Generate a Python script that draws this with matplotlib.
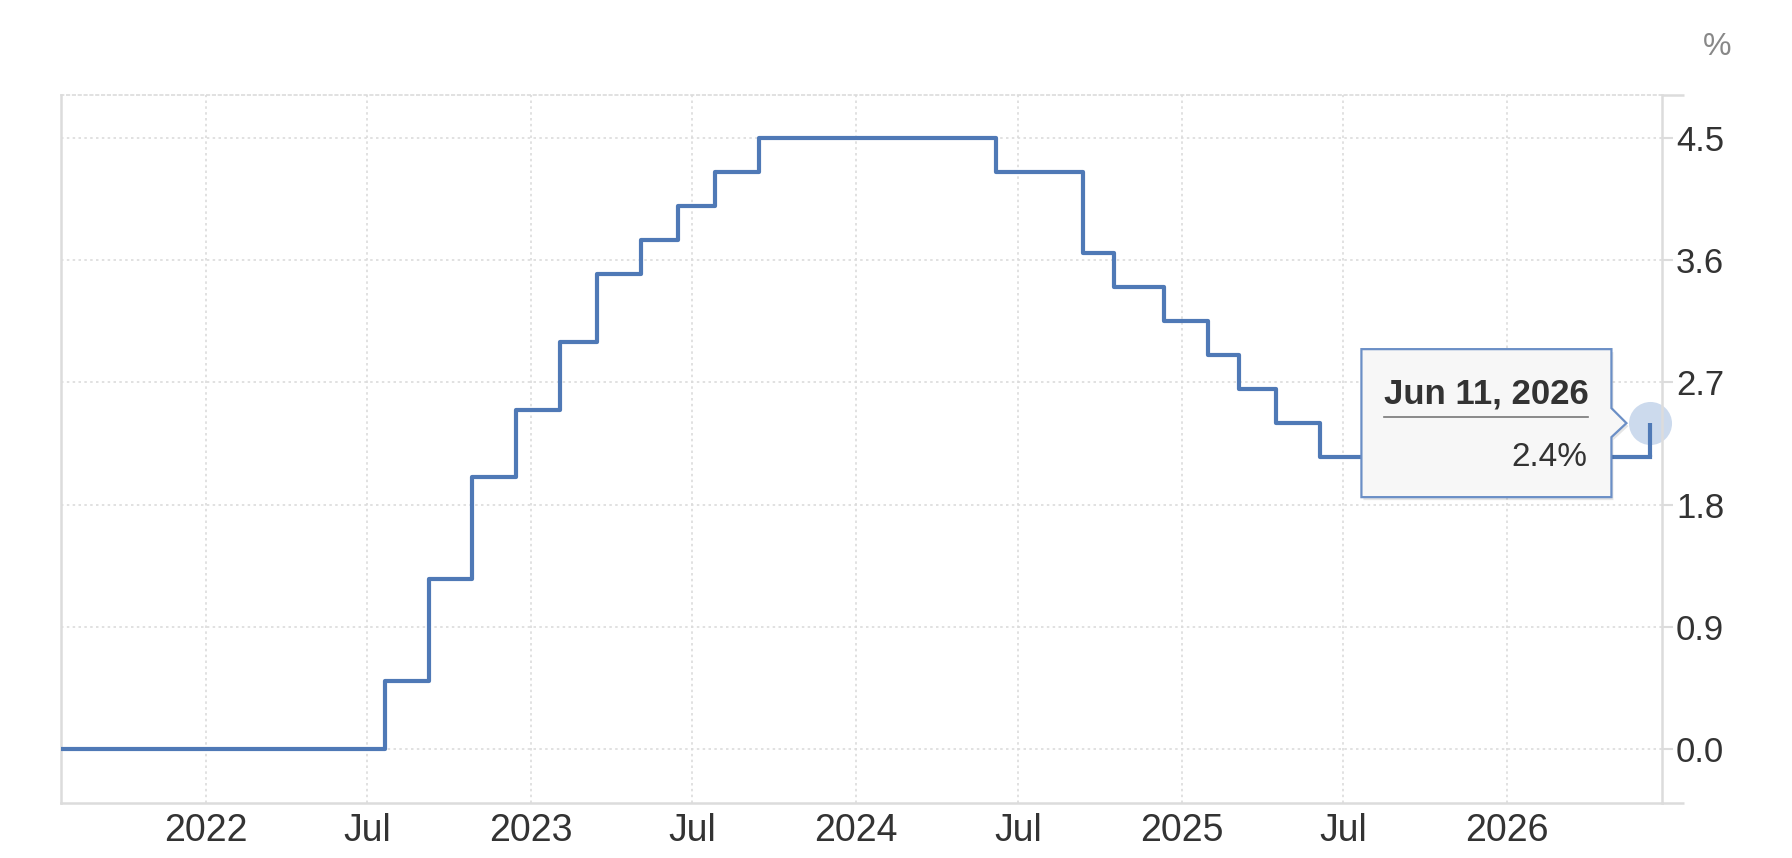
import datetime as dt
import matplotlib
matplotlib.use("Agg")
import matplotlib.pyplot as plt
import matplotlib.dates as mdates
from matplotlib.patches import Polygon
from matplotlib.lines import Line2D
from matplotlib.transforms import Affine2D

plt.rcParams['font.family'] = ['Liberation Sans', 'DejaVu Sans']

# ECB main refinancing rate (%), decision dates
dates = ["2021-07-22", "2022-07-21", "2022-09-08", "2022-10-27", "2022-12-15",
         "2023-02-02", "2023-03-16", "2023-05-04", "2023-06-15", "2023-07-27",
         "2023-09-14", "2024-06-06", "2024-09-12", "2024-10-17", "2024-12-12",
         "2025-01-30", "2025-03-06", "2025-04-17", "2025-06-05", "2026-06-11"]
rates = [0.0, 0.5, 1.25, 2.0, 2.5,
         3.0, 3.5, 3.75, 4.0, 4.25,
         4.5, 4.25, 3.65, 3.4, 3.15,
         2.9, 2.65, 2.4, 2.15, 2.4]
ytick_vals = [0.0, 0.9, 1.8, 2.7, 3.6, 4.5]
tip_date = "Jun 11, 2026"
tip_value = "2.4%"

x = [dt.datetime.strptime(d, "%Y-%m-%d") for d in dates]

line_col = "#4f79b6"
grid_col = "#dcdcdc"
text_col = "#333333"

fig = plt.figure(figsize=(17.92, 8.58), dpi=100)
ax = fig.add_axes([61 / 1792, 55 / 858, (1662 - 61) / 1792, (803 - 95) / 858])

# steps up to the last known level, then the final jump
ax.plot(x[:-1] + [x[-1]], rates[:-1] + [rates[-2]], drawstyle="steps-post",
        color=line_col, lw=3.0, zorder=3)
ax.plot([x[-1], x[-1]], [rates[-2], rates[-1]], color=line_col, lw=3.0,
        solid_capstyle="butt", zorder=3)
ax.plot(x[-1], rates[-1], "o", ms=31, color="#b7cbe6", alpha=0.7, mec="none",
        zorder=2, clip_on=False)

ymin, ymax = -0.398, 4.817
ax.set_xlim(dt.datetime(2021, 7, 22), dt.datetime(2026, 6, 24))
ax.set_ylim(ymin, ymax)

xticks = []
for yr in range(2022, 2027):
    xticks.append(dt.datetime(yr, 1, 1))
    if yr < 2026:
        xticks.append(dt.datetime(yr, 7, 1))
ax.set_xticks(xticks)
ax.set_xticklabels([str(t.year) if t.month == 1 else "Jul" for t in xticks])
ax.set_yticks(ytick_vals)
ax.set_yticklabels(["%.1f" % v for v in ytick_vals])
ax.set_yticks([ymin, ymax], minor=True)
ax.yaxis.tick_right()

ax.tick_params(axis="x", length=0, pad=7, labelsize=27, labelcolor=text_col)
ax.tick_params(axis="y", length=8, width=1.5, color=grid_col, pad=2,
               labelsize=25, labelcolor=text_col)
ax.tick_params(axis="y", which="minor", length=16, width=1.8, color=grid_col)

ax.grid(True, color=grid_col, linestyle=(0, (1.5, 2)), lw=1.2)
for side in ["left", "right", "bottom"]:
    ax.spines[side].set_color(grid_col)
    ax.spines[side].set_linewidth(1.8)
ax.spines["top"].set_color(grid_col)
ax.spines["top"].set_linestyle((0, (1.5, 2)))
ax.spines["top"].set_linewidth(1.2)

fig.text(1717 / 1792, 1 - 47 / 858, "%", fontsize=23, color="#888888",
         ha="center", va="center")

# tooltip anchored to the last point
px, py = ax.transData.transform((mdates.date2num(x[-1]), rates[-1]))
box = [(-289, 74), (-39, 74), (-39, 15), (-24, 0), (-39, -14), (-39, -74), (-289, -74)]
shadow = Polygon(box, closed=True, transform=Affine2D().translate(px + 2, py - 3),
                 facecolor="#000000", alpha=0.10, edgecolor="none", zorder=4,
                 clip_on=False)
ax.add_patch(shadow)
tr = Affine2D().translate(px, py)
tip = Polygon(box, closed=True, transform=tr, facecolor="#f7f7f7",
              edgecolor="#6b8fc6", lw=1.6, zorder=5, clip_on=False)
ax.add_patch(tip)
ax.add_line(Line2D([-266, -62], [6, 6], transform=tr, color="#777777", lw=1.2,
                   zorder=6, clip_on=False))

ax.annotate(tip_date, xy=(x[-1], rates[-1]), xytext=(-266, 20),
            textcoords="offset pixels", ha="left", va="baseline",
            fontsize=25, fontweight="bold", color=text_col, zorder=7)
ax.annotate(tip_value, xy=(x[-1], rates[-1]), xytext=(-63, -43),
            textcoords="offset pixels", ha="right", va="baseline",
            fontsize=24, color=text_col, zorder=7)

fig.savefig("out.png", dpi=100, facecolor="white")
